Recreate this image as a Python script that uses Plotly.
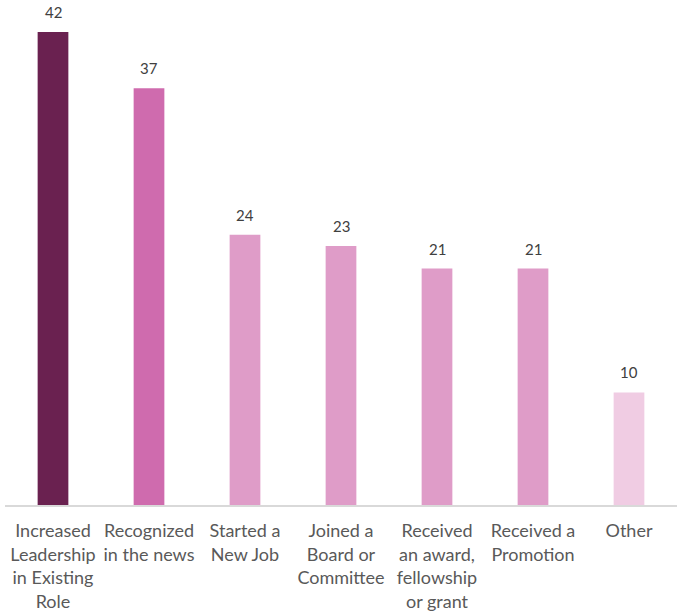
import plotly.graph_objects as go

categories = [
    "Increased<br>Leadership<br>in Existing<br>Role",
    "Recognized<br>in the news",
    "Started a<br>New Job",
    "Joined a<br>Board or<br>Committee",
    "Received<br>an award,<br>fellowship<br>or grant",
    "Received a<br>Promotion",
    "Other",
]
values = [42, 37, 24, 23, 21, 21, 10]
colors = ["#6A2150", "#CF6BAE", "#DF9CC8", "#DF9CC8", "#DF9CC8", "#DF9CC8", "#F0CCE3"]

fig = go.Figure(
    go.Bar(
        x=categories,
        y=values,
        marker=dict(color=colors, line=dict(width=0)),
        width=0.32,
        hoverinfo="skip",
    )
)

for c, v in zip(categories, values):
    fig.add_annotation(
        x=c, y=v, text=str(v), showarrow=False, yanchor="bottom", yshift=9,
        font=dict(family="Lato, sans-serif", size=15, color="#404040"),
    )

fig.update_layout(
    width=685, height=616,
    margin=dict(l=5, r=8, t=32, b=111),
    paper_bgcolor="white", plot_bgcolor="white",
    showlegend=False,
    font=dict(family="Lato, sans-serif", size=18, color="#595959"),
)
fig.update_xaxes(
    showline=True, linecolor="#D9D9D9", linewidth=1.5,
    ticks="", tickfont=dict(size=18, color="#595959"), tickangle=0,
    ticklabelstandoff=9,
    showgrid=False,
)
fig.update_yaxes(range=[0, 42], visible=False, showgrid=False)

fig.write_html("out.html")
